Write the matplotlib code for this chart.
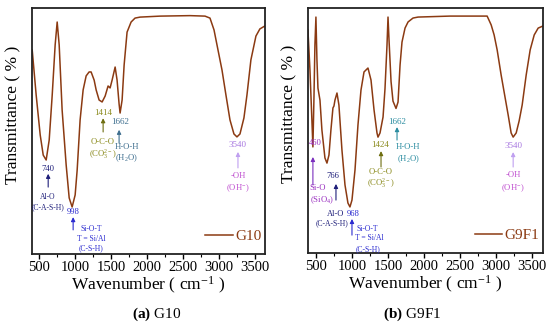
import matplotlib
matplotlib.use('Agg')
import matplotlib.pyplot as plt

plt.rcParams['font.family'] = ['Liberation Serif', 'DejaVu Serif']
plt.rcParams['mathtext.fontset'] = 'custom'
plt.rcParams['mathtext.rm'] = 'Liberation Serif'
plt.rcParams['mathtext.it'] = 'Liberation Serif:italic'
plt.rcParams['mathtext.bf'] = 'Liberation Serif:bold'

LINE_COLOR = '#8b3a12'

# G10 spectrum (wavenumber, transmittance in arbitrary %)
g10_wn = [403, 458, 514, 556, 597, 639, 681, 722, 750, 778, 819, 875, 917, 958,
          1000, 1028, 1069, 1111, 1153, 1194, 1222, 1264, 1292, 1333, 1375, 1417,
          1458, 1486, 1514, 1556, 1583, 1611, 1625, 1653, 1681, 1722, 1778, 1833,
          1903, 2181, 2597, 2806, 2875, 2931, 2986, 3042, 3097, 3153, 3208, 3250,
          3292, 3347, 3389, 3444, 3514, 3569, 3639]
g10_tr = [82.9, 64.6, 48.4, 40.2, 38.2, 46.3, 64.6, 85.0, 94.3, 85.0, 58.5, 36.2,
          22.8, 19.1, 24.0, 34.1, 54.5, 66.7, 72.4, 74.0, 74.0, 70.7, 66.7, 62.6,
          61.8, 64.2, 68.3, 67.5, 70.7, 76.0, 70.7, 61.0, 57.3, 62.6, 76.8, 90.2,
          94.3, 95.9, 96.3, 96.7, 96.9, 96.7, 95.9, 91.1, 83.0, 74.8, 64.6, 54.5,
          48.8, 47.6, 48.8, 55.3, 64.6, 78.9, 88.6, 91.5, 92.7]

# G9F1 spectrum
g9f1_wn = [389, 417, 444, 458, 472, 486, 500, 514, 528, 556, 583, 625, 653, 681,
           708, 736, 750, 764, 792, 819, 861, 903, 944, 972, 1000, 1042, 1083,
           1125, 1167, 1222, 1264, 1306, 1347, 1361, 1389, 1431, 1458, 1486, 1500,
           1514, 1542, 1569, 1611, 1639, 1667, 1694, 1736, 1778, 1847, 1917, 2361,
           2875, 2931, 2972, 3014, 3069, 3125, 3167, 3208, 3236, 3278, 3319, 3361,
           3417, 3472, 3528, 3583, 3653]
g9f1_tr = [91.0, 74.7, 54.3, 43.3, 62.4, 84.9, 96.3, 78.8, 67.3, 62.4, 50.2, 38.8,
           36.7, 40.0, 50.2, 59.2, 60.0, 62.4, 65.3, 60.4, 42.0, 27.8, 20.4, 18.8,
           21.6, 33.9, 52.2, 66.5, 73.9, 75.5, 70.6, 58.4, 49.0, 47.3, 49.0, 55.5,
           67.0, 84.9, 96.3, 86.9, 70.0, 62.0, 59.0, 61.6, 76.7, 86.1, 91.8, 94.3,
           95.9, 96.3, 96.7, 96.7, 93.1, 89.0, 82.9, 72.7, 63.3, 56.3, 49.0, 47.3,
           49.0, 53.9, 60.4, 72.7, 82.9, 89.0, 91.8, 92.7]

# peak annotations: (label, x, y, colour, size, ha)
g10_texts = [
    ('740', 625, 34.6, '#1f1f7a', 6.2, 'center'),
    ('Al-O', 625, 23.2, '#1f1f7a', 5.5, 'center'),
    ('(C-A-S-H)', 625, 19.1, '#1f1f7a', 5.5, 'center'),
    ('998', 972, 17.1, '#2b2bd0', 6.2, 'center'),
    ('Si-O-T', 1222, 10.2, '#2b2bd0', 5.5, 'center'),
    ('T = Si/Al', 1222, 6.3, '#2b2bd0', 5.5, 'center'),
    ('(C-S-H)', 1222, 2.3, '#2b2bd0', 5.5, 'center'),
    ('1414', 1389, 57.3, '#8b8b1e', 6.5, 'center'),
    ('O-C-O', 1389, 45.5, '#8b8b1e', 6.2, 'center'),
    ('(CO$_3^{2-}$)', 1389, 40.7, '#8b8b1e', 6.2, 'center'),
    ('1662', 1625, 53.7, '#3f6f8f', 6.5, 'center'),
    ('H-O-H', 1722, 43.5, '#3f6f8f', 6.2, 'center'),
    ('(H$_2$O)', 1708, 39.0, '#3f6f8f', 6.2, 'center'),
    ('3540', 3264, 44.3, '#a878e0', 6.5, 'center'),
    ('-OH', 3264, 31.7, '#c050d0', 6.2, 'center'),
    ('(OH$^{-}$)', 3264, 26.8, '#c050d0', 6.2, 'center'),
]
g10_arrows = [  # x, y tail, y tip, colour
    (625, 27.2, 32.6, '#1f1f7a'),
    (972, 9.8, 15.0, '#2b2bd0'),
    (1389, 49.6, 55.2, '#6e6e10'),
    (1611, 45.1, 50.5, '#3f6f8f'),
    (3264, 35.0, 41.5, '#c0a0f0'),
]

g9f1_texts = [
    ('460', 486, 44.9, '#9a30c0', 6.2, 'center'),
    ('Si-O', 528, 26.5, '#9a30c0', 6.2, 'center'),
    ('(SiO$_4$)', 583, 21.6, '#9a30c0', 6.2, 'center'),
    ('766', 736, 31.4, '#1f1f7a', 6.2, 'center'),
    ('Al-O', 895, 15.9, '#1f1f7a', 6.0, 'right'),
    ('968', 925, 15.9, '#2b2bd0', 6.2, 'left'),
    ('(C-A-S-H)', 722, 12.2, '#1f1f7a', 5.5, 'center'),
    ('Si-O-T', 1208, 9.8, '#2b2bd0', 5.5, 'center'),
    ('T = Si/Al', 1236, 6.1, '#2b2bd0', 5.5, 'center'),
    ('(C-S-H)', 1222, 1.6, '#2b2bd0', 5.5, 'center'),
    ('1424', 1389, 44.1, '#8b8b1e', 6.5, 'center'),
    ('O-C-O', 1403, 33.1, '#8b8b1e', 6.2, 'center'),
    ('(CO$_3^{2-}$)', 1403, 28.6, '#8b8b1e', 6.2, 'center'),
    ('1662', 1625, 53.5, '#2a8ca0', 6.5, 'center'),
    ('H-O-H', 1778, 43.3, '#2a8ca0', 6.2, 'center'),
    ('(H$_2$O)', 1778, 38.4, '#2a8ca0', 6.2, 'center'),
    ('3540', 3236, 43.7, '#a878e0', 6.5, 'center'),
    ('-OH', 3236, 31.8, '#c050d0', 6.2, 'center'),
    ('(OH$^{-}$)', 3236, 26.5, '#c050d0', 6.2, 'center'),
]
g9f1_arrows = [
    (458, 27.8, 39.2, '#7b2fbe'),
    (778, 21.6, 28.2, '#1f1f7a'),
    (1000, 7.3, 13.9, '#2b2bd0'),
    (1403, 35.1, 41.6, '#6e6e10'),
    (1625, 46.1, 51.4, '#2a8ca0'),
    (3236, 35.1, 41.2, '#c0a0f0'),
]

fig = plt.figure(figsize=(5.5, 3.28), dpi=100)
ax1 = fig.add_axes([32 / 550, 74 / 328, 233 / 550, 246 / 328])
ax2 = fig.add_axes([308 / 550, 75 / 328, 235 / 550, 245 / 328])

panels = [
    (ax1, g10_wn, g10_tr, 'G10', g10_texts, g10_arrows, (400, 3640)),
    (ax2, g9f1_wn, g9f1_tr, 'G9F1', g9f1_texts, g9f1_arrows, (390, 3650)),
]

for ax, wn, tr, name, texts, arrows, xlim in panels:
    ax.plot(wn, tr, color=LINE_COLOR, lw=1.1, label=name)
    ax.set_xlim(*xlim)
    ax.set_ylim(0, 100)
    ax.set_xticks([500, 1000, 1500, 2000, 2500, 3000, 3500])
    ax.set_xticks(range(750, 3700, 500), minor=True)
    ax.set_yticks([])
    ax.tick_params(axis='x', which='major', direction='out', length=3.5, width=1,
                   labelsize=10.5, pad=1.5)
    ax.tick_params(axis='x', which='minor', direction='out', length=2, width=0.8)
    for sp in ax.spines.values():
        sp.set_linewidth(1.3)
        sp.set_color('#222222')
    ax.set_xlabel('Wavenumber ( cm$^{-1}$ )', fontsize=12.5, labelpad=1)
    ax.set_ylabel('Transmittance ( % )', fontsize=12.5)
    ax.yaxis.set_label_coords(-0.045, 0.567)
    for label, x, y, col, fs, ha in texts:
        ax.text(x, y, label, color=col, fontsize=fs, ha=ha, va='center')
    for x, y0, y1, col in arrows:
        ax.annotate('', xy=(x, y1), xytext=(x, y0),
                    arrowprops=dict(arrowstyle='-|>', color=col, lw=0.8,
                                    mutation_scale=6, shrinkA=0, shrinkB=0))
    leg = ax.legend(loc='lower right', frameon=False, fontsize=11, handlelength=1.8,
                    handletextpad=0.15, borderaxespad=0.0, labelcolor=LINE_COLOR,
                    bbox_to_anchor=(1.01, 0.02))

fig.text(157 / 550, 1 - 314 / 328, r'$\mathbf{(a)}$ G10', ha='center', va='center', fontsize=11)
fig.text(412 / 550, 1 - 314 / 328, r'$\mathbf{(b)}$ G9F1', ha='center', va='center', fontsize=11)

plt.savefig('out.png', dpi=100)
plt.close()
